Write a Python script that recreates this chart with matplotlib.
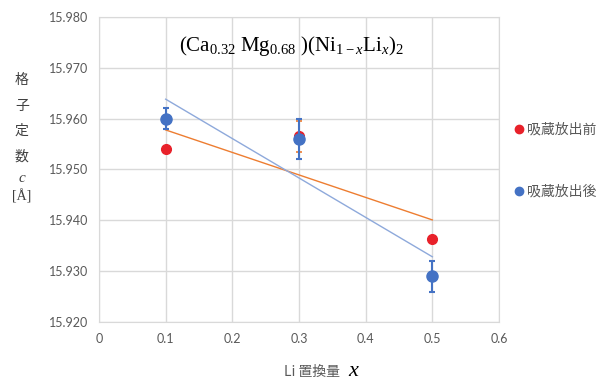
import matplotlib
matplotlib.use("Agg")
import matplotlib.pyplot as plt
import numpy as np

# Li substitution amount and lattice constant c [Å]
li_x = [0.1, 0.3, 0.5]
c_before = [15.954, 15.9565, 15.9363]
err_before = [0.0, 0.003, 0.0]
c_after = [15.960, 15.956, 15.929]
err_after = [0.002, 0.004, 0.003]

label_before = "吸蔵放出前"
label_after = "吸蔵放出後"
xticks = [0, 0.1, 0.2, 0.3, 0.4, 0.5, 0.6]
yticks = [15.920, 15.930, 15.940, 15.950, 15.960, 15.970, 15.980]

RED = "#E8212A"
BLUE = "#4472C4"
RED_FIT = "#ED7D31"
BLUE_FIT = "#8EA9DB"
GRID = "#D9D9D9"
TICK = "#595959"

plt.rcParams["mathtext.fontset"] = "custom"
plt.rcParams["mathtext.rm"] = "Liberation Serif"
plt.rcParams["mathtext.it"] = "Liberation Serif:italic"
plt.rcParams["font.family"] = ["Lato", "DejaVu Sans"]

fig = plt.figure(figsize=(6.1, 3.8), dpi=100)
ax = fig.add_axes([0.1623, 0.1526, 0.6557, 0.8027])

# linear trend lines, drawn over the measured x range
xs = np.array(li_x)
for ys, col in ((c_before, RED_FIT), (c_after, BLUE_FIT)):
    k, b = np.polyfit(xs, ys, 1)
    ax.plot(xs[[0, -1]], k * xs[[0, -1]] + b, color=col, lw=1.0, zorder=2)

ax.errorbar(li_x, c_before, yerr=err_before, fmt="o", color=RED, ms=7,
            ecolor=RED_FIT, elinewidth=1.2, capsize=2.5, capthick=1.2, zorder=3)
ax.errorbar(li_x, c_after, yerr=err_after, fmt="o", color=BLUE, ms=8,
            ecolor=BLUE, elinewidth=1.5, capsize=2.5, capthick=1.5, zorder=4)

ax.set_xlim(0, 0.6)
ax.set_ylim(15.920, 15.980)
ax.set_xticks(xticks)
ax.set_xticklabels([f"{t:g}" for t in xticks])
ax.set_yticks(yticks)
ax.set_yticklabels([f"{t:.3f}" for t in yticks])
ax.tick_params(length=0, labelsize=9, colors=TICK, pad=8)
ax.grid(True, color=GRID, lw=1.0)
ax.set_axisbelow(True)
for sp in ax.spines.values():
    sp.set_color(GRID)

ax.text(0.48, 0.905, r"$\mathrm{(Ca_{0.32}\ Mg_{0.68}\ )(Ni_{1-\mathit{x}}Li_{\mathit{x}})_{2}}$",
        transform=ax.transAxes, ha="center", va="center", fontsize=15)

# stacked vertical y label
jp = ["Noto Sans CJK JP", "DejaVu Sans"]
for i, ch in enumerate("格子定数"):
    fig.text(0.036, 0.789 - i * 0.067, ch, ha="center", va="center",
             fontsize=10, family=jp, color="#404040")
fig.text(0.036, 0.532, r"$\mathit{c}$", ha="center", va="center", fontsize=11, color="#404040")
fig.text(0.036, 0.482, "[Å]", ha="center", va="center", fontsize=10,
         family="Liberation Serif", color="#404040")

# x label
fig.text(0.557, 0.021, "Li 置換量", ha="right", va="center", fontsize=10,
         family=jp, color=TICK)
fig.text(0.58, 0.027, r"$\mathit{x}$", ha="center", va="center", fontsize=16)

# legend
for ypos, lab, col in ((0.66, label_before, RED), (0.497, label_after, BLUE)):
    fig.lines.append(plt.Line2D([0.85], [ypos], marker="o", ms=6, color=col,
                                transform=fig.transFigure, figure=fig))
    fig.text(0.864, ypos, lab, ha="left", va="center", fontsize=10,
             family=jp, color=TICK)

fig.savefig("out.png", dpi=100)
